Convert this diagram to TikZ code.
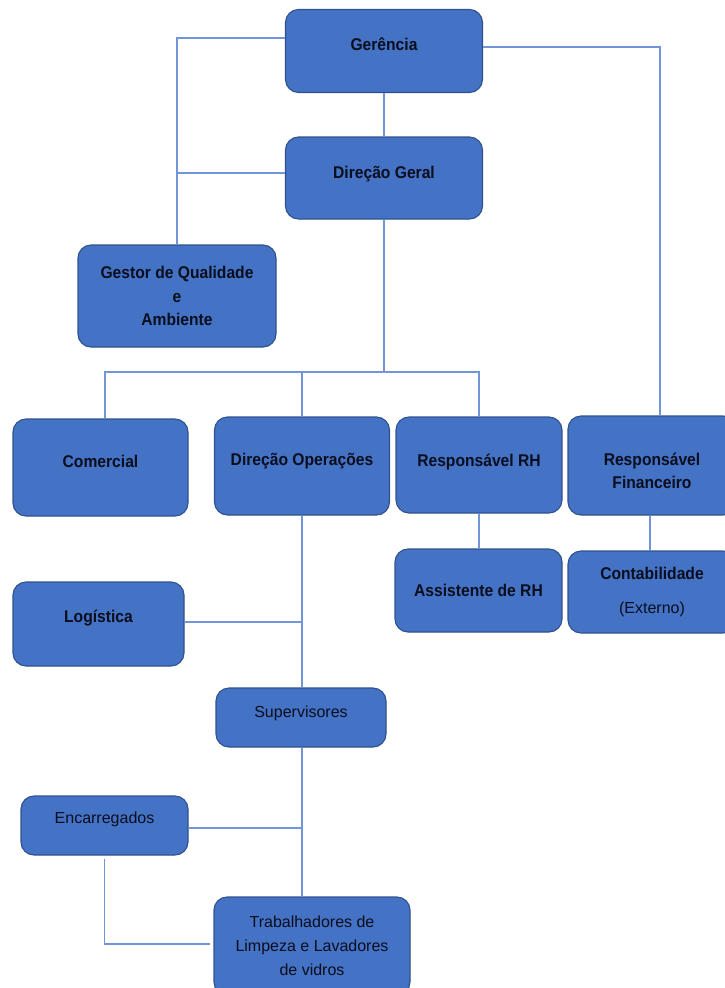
\documentclass[tikz,border=0pt]{standalone}
\usepackage{fontspec}
\setmainfont{Liberation Sans}[BoldFeatures={FakeStretch=0.92}]
\usetikzlibrary{positioning}
\usepackage{xcolor}
\definecolor{boxfill}{RGB}{68,114,196}
\definecolor{boxline}{RGB}{47,82,143}
\definecolor{linkcol}{RGB}{112,150,216}
\definecolor{txtcol}{RGB}{10,14,30}

\begin{document}
\begin{tikzpicture}[
    x=1pt, y=-1pt,
    box/.style={draw=boxline, line width=1.1pt, rounded corners=13pt, fill=boxfill, text=txtcol, inner sep=0pt, align=center, font=\fontsize{17}{23.5}\selectfont\bfseries},
    plain/.style={font=\fontsize{16}{24}\selectfont},
    up/.style={text height=12pt, text depth=#1},
    line/.style={draw=linkcol, line width=1.2pt}
]
\useasboundingbox (0,0) rectangle (725,988);

% Nodes
\node[box, up=14pt, minimum width=197, minimum height=83] (gerencia) at (384,51) {Gerência};
\node[box, up=11pt, minimum width=197, minimum height=82] (direcao) at (384,178) {Direção Geral};
\node[box, minimum width=198, minimum height=102] (gestor) at (177,296) {Gestor de Qualidade\\e\\Ambiente};
\node[box, up=13pt, minimum width=175, minimum height=97] (comercial) at (100.5,467.5) {Comercial};
\node[box, up=14pt, minimum width=175, minimum height=98] (operacoes) at (302,466) {Direção Operações};
\node[box, up=10pt, minimum width=166, minimum height=96] (rh) at (479,465) {Responsável RH};
\node[box, minimum width=168, minimum height=99] (financeiro) at (652,465.5) {\rule{0pt}{23pt}Responsável\\Financeiro};
\node[box, up=0pt, minimum width=167, minimum height=83] (assistente) at (478.5,590.5) {Assistente de RH};
\node[box, minimum width=168, minimum height=82] (contabilidade) at (652,592) {Contabilidade\\[11pt]{\mdseries\fontsize{16}{24}\selectfont(Externo)}};
\node[box, up=16pt, minimum width=171, minimum height=84] (logistica) at (98.5,624) {Logística};
\node[box, plain, up=13pt, minimum width=170, minimum height=59] (supervisores) at (301,717.5) {Supervisores};
\node[box, plain, up=17pt, minimum width=167, minimum height=59] (encarregados) at (104.5,825.5) {Encarregados};
\node[box, plain, minimum width=196, minimum height=98] (trabalhadores) at (312,946) {Trabalhadores de\\Limpeza e Lavadores\\de vidros};
\coordinate (bus) at (384,372);

% Edges
\draw[line] ([yshift=13pt]gerencia.west) -| (gestor.north);
\draw[line] ([yshift=5pt]direcao.west) -| (gestor.north);
\draw[line] ([yshift=4pt]gerencia.east) -| ([xshift=8pt]financeiro.north);
\draw[line] (gerencia) -- (direcao);
\draw[line] (direcao) -- (bus);
\draw[line] ([xshift=4.5pt]comercial.north) |- (bus) -| (rh.north);
\draw[line] (operacoes.north) -- (operacoes.north |- bus);
\draw[line] (rh) -- (rh.south |- assistente.north);
\draw[line] ([xshift=-2pt]financeiro.south) -- ([xshift=-2pt]contabilidade.north);
\draw[line] (operacoes.south) -- (operacoes.south |- supervisores.north);
\draw[line] ([yshift=2pt]logistica.east) -- ([yshift=2pt]logistica.east -| operacoes.south);
\draw[line] (operacoes.south |- supervisores.south) -- (operacoes.south |- trabalhadores.north);
\draw[line] ([yshift=-2.5pt]encarregados.east) -- ([yshift=-2.5pt]encarregados.east -| operacoes.south);
\draw[line] ([yshift=-3pt]encarregados.south) |- ([xshift=-3pt, yshift=2pt]trabalhadores.west);

\end{tikzpicture}
\end{document}
